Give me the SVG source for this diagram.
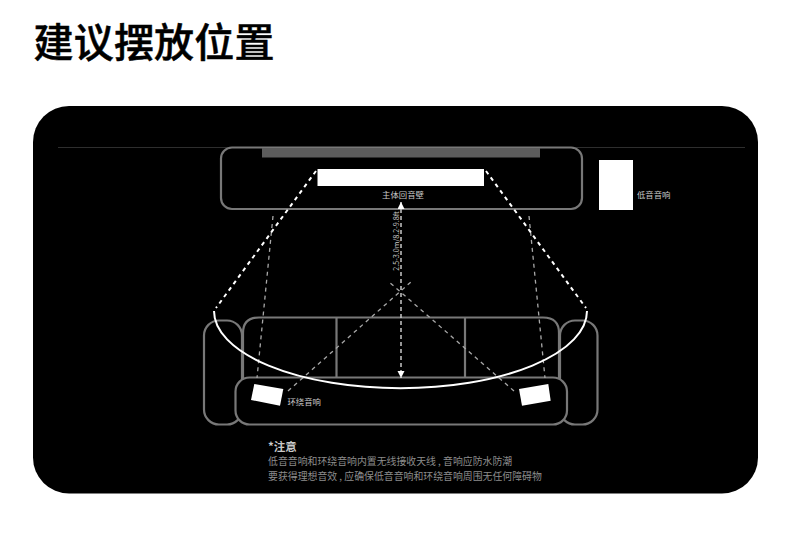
<svg xmlns="http://www.w3.org/2000/svg" width="790" height="541" viewBox="0 0 790 541">
<style>
text{font-family:"Noto Sans CJK SC","Liberation Sans",sans-serif;fill:#b4b4b4}
.o{fill:#000;stroke:#787878;stroke-width:2.2}
.w{fill:#fff}
.g{fill:none;stroke:#a8a8a8;stroke-width:1.300;stroke-dasharray:4 4}
.v{fill:none;stroke:#c8c8c8;stroke-width:1.500;stroke-dasharray:4 3}
.b{fill:none;stroke:#fff;stroke-width:2;stroke-dasharray:4 4}
.l{font-size:8.4px;fill:#c8c8c8}
.n{font-size:9.900px;fill:#8c8c8c}
</style>
<defs>
<marker id="a" markerWidth="8" markerHeight="8" refX="7" refY="3.500" orient="auto-start-reverse" markerUnits="userSpaceOnUse"><path d="M0 0L7 3.500L0 7z" fill="#fff"/></marker>
</defs>
<rect width="790" height="541" fill="#fff"/>
<text id="title" x="33.500" y="57" style="font-size:40px;font-weight:500;fill:#000;stroke:#000;stroke-width:0.500;letter-spacing:0.200px">建议摆放位置</text>
<g id="panel">
<rect x="33" y="106" width="725" height="387.500" rx="36" fill="#000"/>
<path d="M58 147.500H745" stroke="#2e2e2e" stroke-width="1"/>
</g>
<g id="wall-unit">
<rect class="o" x="221" y="147.500" width="361" height="61.500" rx="11"/>
<rect x="262" y="148" width="278" height="9.500" fill="#5c5c5c"/>
</g>
<g id="soundbar">
<rect class="w" x="317.500" y="169" width="166.500" height="17"/>
<text class="l" x="403" y="197.500" text-anchor="middle">主体回音壁</text>
</g>
<g id="subwoofer">
<rect class="w" x="599" y="160" width="34" height="50"/>
<text class="l" x="637" y="197.500">低音音响</text>
</g>
<g id="sofa">
<rect class="o" x="204" y="320.500" width="38" height="104" rx="15"/>
<rect class="o" x="560" y="320.500" width="37.500" height="104" rx="15"/>
<path class="o" d="M243 378V333Q243 317.500 259 317.500H543Q559 317.500 559 333V378"/>
<path class="o" d="M336.500 317.500V378M465 317.500V378"/>
<rect class="o" x="235.500" y="377.500" width="331.500" height="47" rx="14"/>
</g>
<g id="connectors">
<path class="g" d="M273 216L257 378M529 216L545 378"/>
<path class="g" d="M288 391L412 281M514 391L388 281"/>
<path class="v" d="M401 202V378" marker-start="url(#a)" marker-end="url(#a)"/>
<path class="b" d="M316 171L216 308M486 171L586 308"/>
<path d="M214 311A186 77 0 0 0 587 311" fill="none" stroke="#fff" stroke-width="2"/>
</g>
<g id="distance-label">
<text class="l" transform="translate(398.500 241) rotate(-90)" text-anchor="middle" style="font-size:7.2px">2.5-3.0m/8.2-9.8ft</text>
</g>
<g id="surround-left">
<polygon class="w" points="254.300,384 283.300,389 280,405.700 251,400"/>
<text class="l" x="287.500" y="404.500">环绕音响</text>
</g>
<g id="surround-right">
<polygon class="w" points="519,389 548.300,384 550.700,400.700 522,405.700"/>
</g>
<g id="note">
<text x="268" y="450.500" style="font-size:11.500px;font-weight:700;fill:#c8c8c8">*注意</text>
<text class="n" x="268" y="464.500">低音音响和环绕音响内置无线接收天线 , 音响应防水防潮</text>
<text class="n" x="268" y="479.500">要获得理想音效 , 应确保低音音响和环绕音响周围无任何障碍物</text>
</g>
</svg>
